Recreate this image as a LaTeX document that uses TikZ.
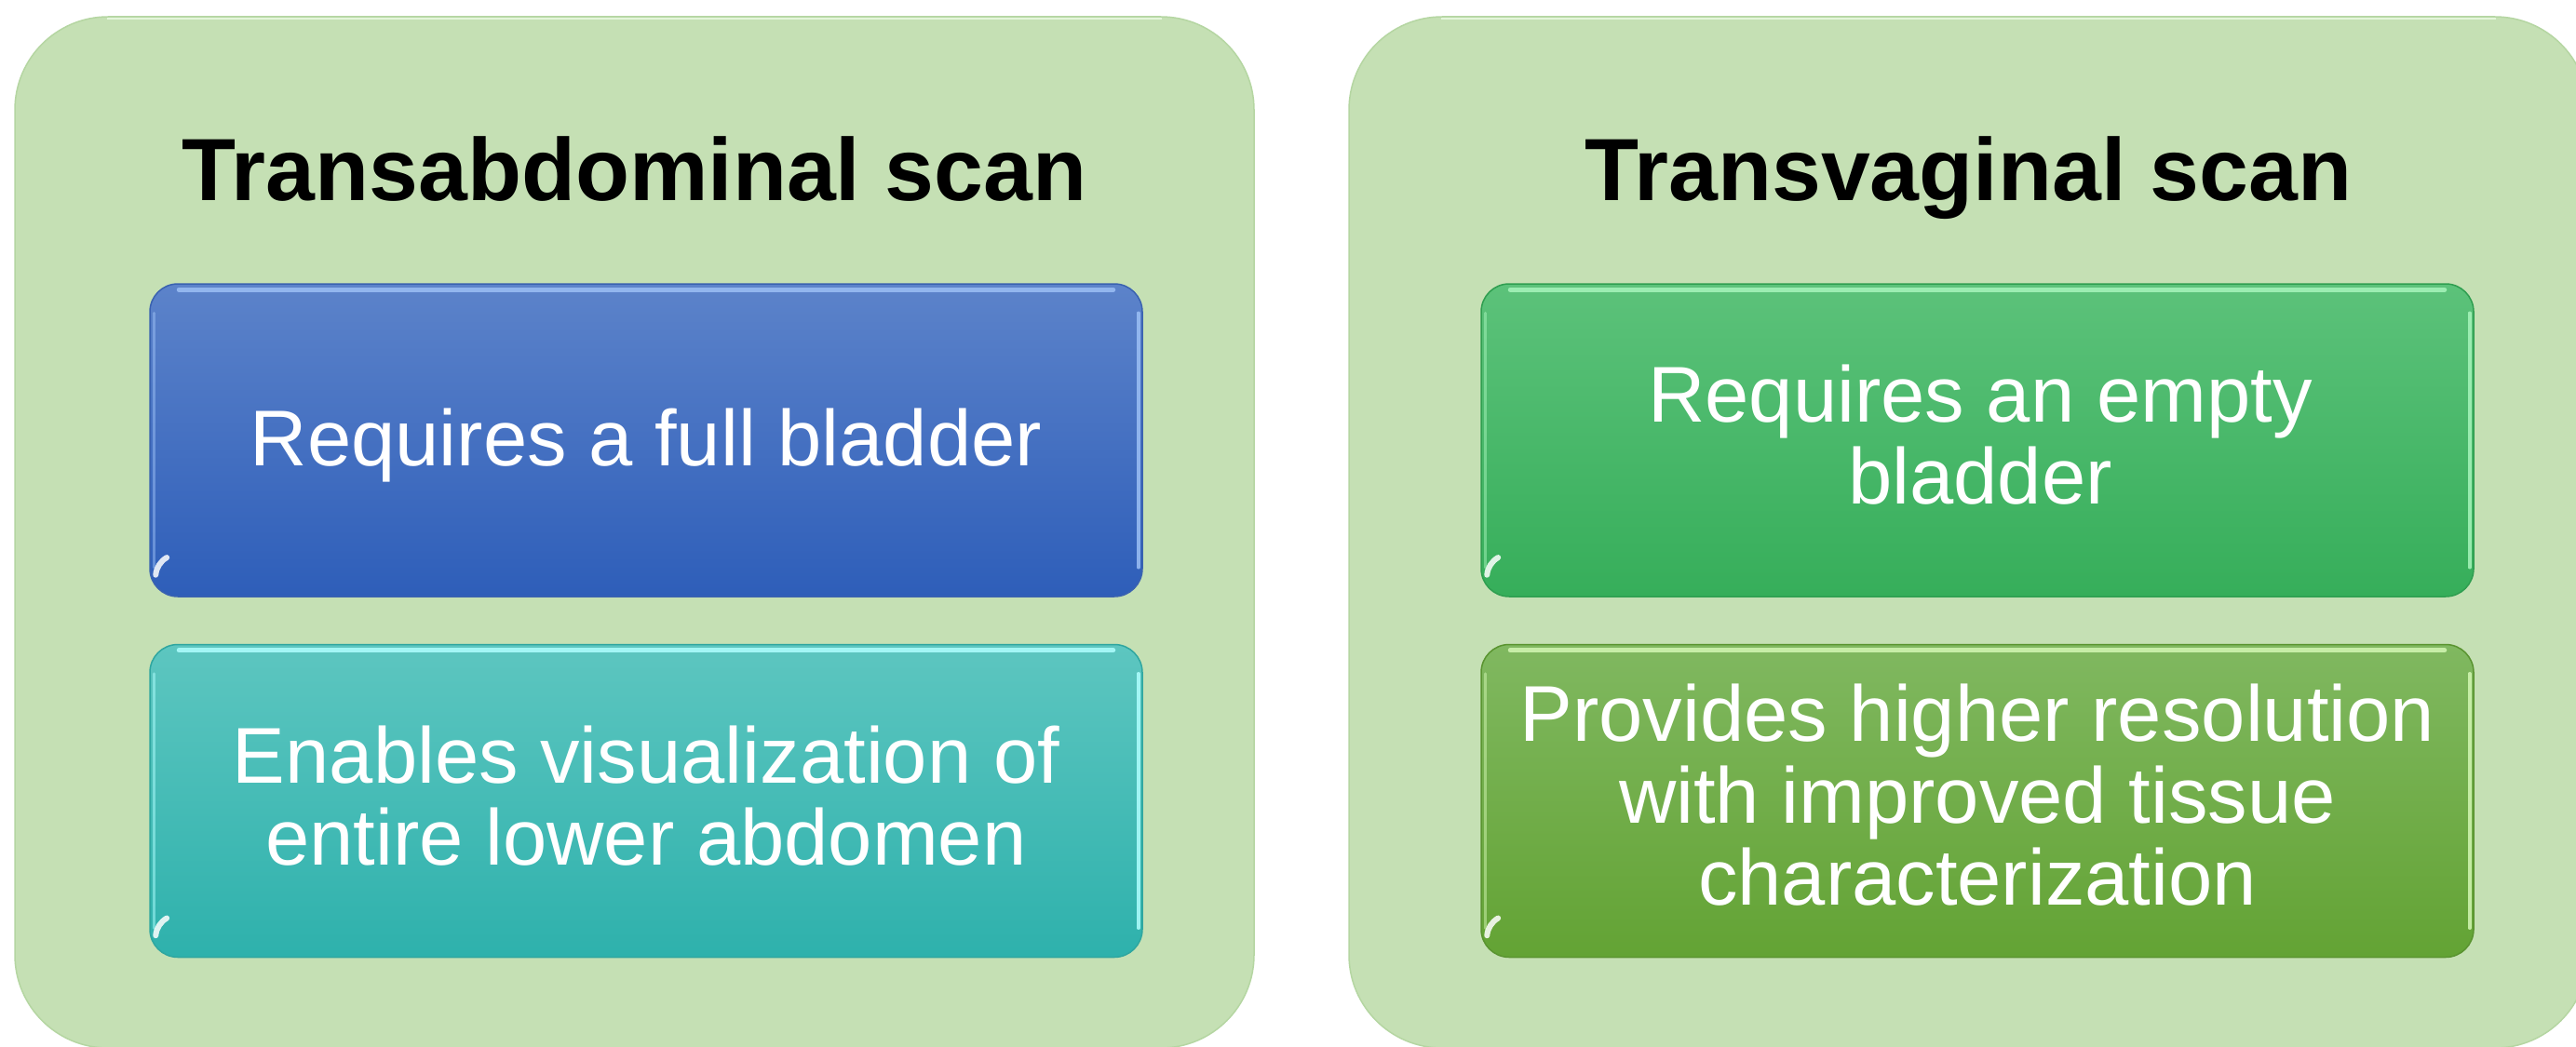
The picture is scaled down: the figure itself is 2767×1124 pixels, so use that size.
\documentclass[tikz,border=0pt]{standalone}
\usepackage{fontspec}
\setmainfont{Liberation Sans}
\definecolor{panelgreen}{HTML}{C5E0B4}
\definecolor{paneledge}{HTML}{B5D6A2}
\definecolor{panelhl}{HTML}{E4F5DA}
\definecolor{blueT}{HTML}{5C83CA}
\definecolor{blueB}{HTML}{2E5EB9}
\definecolor{blueD}{HTML}{3A62B0}
\definecolor{blueH}{HTML}{9CC0F5}
\definecolor{tealT}{HTML}{5DC6C0}
\definecolor{tealB}{HTML}{2EB1AC}
\definecolor{tealD}{HTML}{2FA6A0}
\definecolor{tealH}{HTML}{B0FFFF}
\definecolor{grnT}{HTML}{5CC27A}
\definecolor{grnB}{HTML}{36AE5A}
\definecolor{grnD}{HTML}{2F9E50}
\definecolor{grnH}{HTML}{A8F5BC}
\definecolor{lgrT}{HTML}{80B860}
\definecolor{lgrB}{HTML}{63A334}
\definecolor{lgrD}{HTML}{5A9430}
\definecolor{lgrH}{HTML}{D4F7B4}
\begin{document}
\begin{tikzpicture}[x=1pt,y=-1pt,
  panel/.style={rectangle, rounded corners=100pt, fill=panelgreen, draw=paneledge, line width=1.5pt,
    minimum width=1331pt, minimum height=1108pt, inner sep=0pt},
  panelline/.style={draw=panelhl, line width=2.5pt},
  box/.style={rectangle, rounded corners=30pt, line width=1.5pt, inner sep=0pt,
    minimum width=1066pt, minimum height=336pt},
  bluebox/.style={box, top color=blueT, bottom color=blueB, draw=blueD},
  tealbox/.style={box, top color=tealT, bottom color=tealB, draw=tealD},
  grnbox/.style={box, top color=grnT, bottom color=grnB, draw=grnD},
  lgrbox/.style={box, top color=lgrT, bottom color=lgrB, draw=lgrD},
  hl/.style={line width=5pt, line cap=round, opacity=0.85},
  glint/.style={draw=white, line width=6pt, line cap=round, opacity=0.85},
  title/.style={font=\fontsize{95}{110}\selectfont\bfseries, text=black, inner sep=0pt, anchor=base},
  body/.style={font=\fontsize{85}{88}\selectfont, text=white, align=center, inner sep=0pt, anchor=center},
]
\useasboundingbox (0,0) rectangle (2767,1124);
\fill[white] (0,0) rectangle (2767,1124);

% panels
\node[panel] (lp) at (681.5,572) {};
\node[panel] (rp) at (2114.5,572) {};
\foreach \p in {lp,rp}{
  \draw[panelline] ([xshift=100pt,yshift=-3pt]\p.north west) -- ([xshift=-100pt,yshift=-3pt]\p.north east);
}

% titles
\node[title] (h1) at (681.5,215) {Transabdominal scan};
\node[title] (h2) at (2114.5,215) {Transvaginal scan};

% boxes
\node[bluebox] (b1) at (694,473) {};
\node[tealbox] (b2) at (694,860.5) {};
\node[grnbox]  (b3) at (2124,473) {};
\node[lgrbox]  (b4) at (2124,860.5) {};

% highlights
\foreach \b/\c in {b1/blueH,b2/tealH,b3/grnH,b4/lgrH}{
  \draw[hl,draw=\c] ([xshift=32pt,yshift=-7pt]\b.north west) -- ([xshift=-32pt,yshift=-7pt]\b.north east);
  \draw[hl,draw=\c,line width=3.5pt] ([xshift=-5pt,yshift=-32pt]\b.north east) -- ([xshift=-5pt,yshift=32pt]\b.south east);
  \draw[hl,draw=\c,line width=3pt,opacity=0.5] ([xshift=5pt,yshift=-32pt]\b.north west) -- ([xshift=5pt,yshift=32pt]\b.south west);
  \draw[glint] ([xshift=7pt,yshift=24pt]\b.south west) arc[start angle=175,end angle=120,radius=24pt];
}

% texts
\node[body] (t1) at (694,478.5) {Requires a full bladder};
\node[body] (t2) at (694,855) {Enables visualization of\\entire lower abdomen};
\node[body] (t3) at (2127,467.5) {Requires an empty\\bladder};
\node[body] (t4) at (2124,854) {Provides higher resolution\\with improved tissue\\characterization};
\end{tikzpicture}
\end{document}
